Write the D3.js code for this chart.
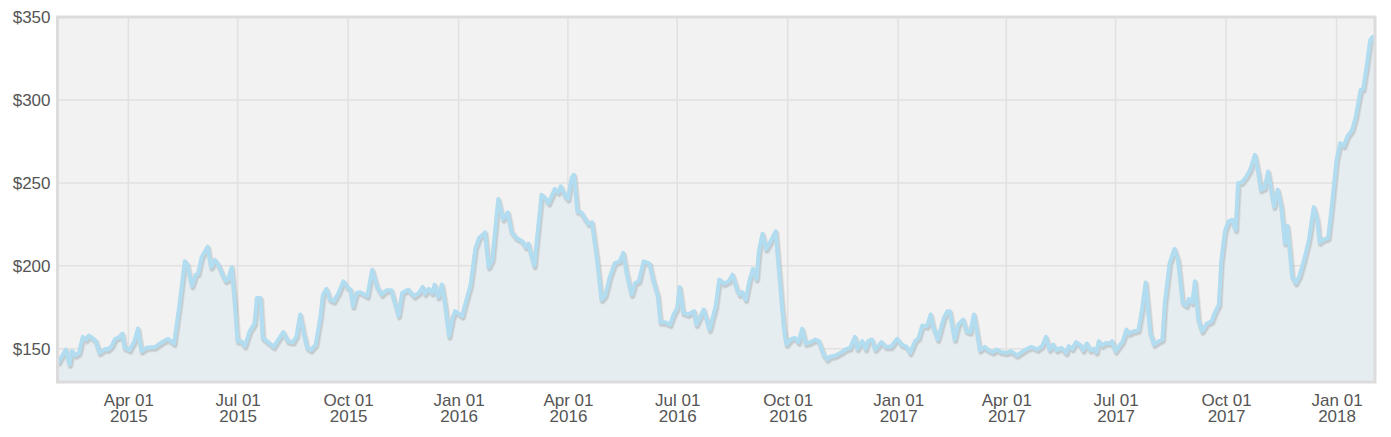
<!DOCTYPE html>
<html>
<head>
<meta charset="utf-8">
<script src="https://cdn.jsdelivr.net/npm/d3@7"></script>
<style>
  html, body { margin: 0; padding: 0; background: #ffffff; }
  svg { display: block; }
</style>
</head>
<body>
<svg id="chart" width="1391" height="437"></svg>
<script>
// ---- Data ----
const startDate = "2015-02-01";
const dayOffsets = [
  0,7,10,12,15,18,21,24,26,29,32,35,40,42,45,48,51,54,56,60,64,67,70,74,78,81,87,92,97,101,
  106,108,112,115,117,120,125,128,131,134,137,140,142,145,147,150,153,156,160,164,166,169,171,176,180,183,
  188,192,196,199,202,205,208,211,215,219,221,224,227,230,234,238,242,244,246,249,252,258,262,266,270,274,278,
  284,287,292,297,301,304,306,309,312,314,317,320,323,326,329,331,337,339,344,348,351,356,359,362,367,
  371,375,378,382,387,390,392,397,403,406,409,414,417,419,423,425,428,430,433,436,439,442,445,449,453,456,
  460,464,468,471,474,478,481,484,488,493,496,500,502,506,510,513,516,518,521,525,530,532,538,543,548,551,
  555,559,562,566,568,570,573,576,579,582,584,587,590,593,598,602,605,607,611,614,617,620,623,627,631,634,
  638,641,643,648,652,656,660,664,666,670,673,675,678,681,686,690,694,699,703,707,710,714,717,720,724,727,
  729,733,738,741,743,747,750,754,757,760,763,766,768,772,775,779,782,786,790,794,799,802,806,811,816,820,
  823,826,829,832,836,840,842,845,848,852,854,857,860,863,865,867,870,873,876,878,881,884,887,890,892,896,
  900,903,906,910,913,917,920,922,926,930,933,937,940,942,945,947,950,953,957,961,963,967,969,972,975,978,
  981,983,986,990,993,997,1000,1002,1005,1008,1011,1013,1016,1019,1022,1024,1026,1028,1031,1034,1038,1042,
  1046,1049,1051,1054,1058,1061,1065,1068,1071,1074,1078,1081,1085,1087,1090,1093,1095,1097
];
const prices = [
  141,149.6,140.6,148.6,146,147.6,157.2,155.6,158,156.6,154.6,147.6,150,149.6,151.6,156,156.8,159.2,150.6,149.2,154.6,162.2,148.6,150.6,151,151,154,156,153.2,173.6,
  202.8,201,188,194.6,195.2,205.2,211.6,199.2,203.6,200.6,195.6,191,191.6,199.2,183.6,154.6,154.6,151.6,160.6,165.2,180.6,180.6,156.6,153.6,151.2,154.6,
  160,154.6,154,157.6,170.7,159.6,150.6,149.2,152.6,169.7,182.7,186.1,179.7,178.7,183.7,190.7,186.7,185.7,175.7,183.7,184.1,181.7,197.7,187.7,182.7,185.3,185.3,
  170,183.7,185.7,181.7,183.7,187.3,183.3,186.1,183.7,188.7,181.3,188.7,175.7,157.6,168.7,172.7,169.7,175.7,188.7,210.8,216.8,220.2,199.3,203.7,240.3,
  228.2,232.2,220.8,216.8,214.8,211.4,213.4,200.1,242.9,240.9,237.8,246.3,244.3,247.9,241.9,240.3,252.9,254.9,232.8,232.2,228.8,225.4,226.2,205.8,179.7,182.1,
  193.7,201.7,202.7,207.8,195.7,182.7,189.7,190.7,202.7,201.3,191.7,181.7,166,166,164.6,170.7,174.7,187.3,171.7,170.7,172.7,164.6,173.7,161.6,175.7,191.7,
  189.3,190.7,194.7,185.7,182.7,184.1,179.7,190.7,198.1,192.1,208.8,219.4,210.1,213.8,220.8,186.7,161.6,152.6,156,156.6,154,162.2,153.2,154,155.6,154.6,
  146.6,143.6,145.2,146,147.6,149.6,150.6,157.2,150,154.6,150,154.6,155.6,149.6,154,151.2,151.2,156,152.6,151.2,147.6,154.6,156.6,164,163.6,170.7,
  163.6,155.6,168.7,172.7,172.7,155.6,164.6,167.6,160.6,160,170.7,158.6,149.2,151.2,149.2,148,149.6,148,147.6,148.6,146,147.6,149.6,151.2,149.6,152,
  157.2,149.6,152.6,149.2,150.6,147.6,151.6,150,154,152,149.2,153.2,149.2,150,148,154.6,152,153.6,153.2,154.6,148.6,151.6,154.6,161.6,159.2,160.6,
  161.2,173.7,190,159.6,152.6,154.6,155.6,177.7,201.7,210.2,203.8,177.7,176.1,180.1,177.7,190.7,167.6,160.6,165.2,166.6,170.7,176.7,202.7,220.8,226.8,227.8,
  221.8,249.9,250.3,253.9,257.9,266.9,255.9,245.9,246.9,256.9,243.9,235.8,245.9,235.8,213.8,224.2,209.8,193.7,189.7,193.7,203.8,215.8,
  235.4,227.8,214.2,215.8,216.8,235.8,263.9,274,272.3,278,282,290,306,306.4,320,336.1,338,335
];
const yTicks = [150, 200, 250, 300, 350];
const yDomain = [130, 350];
const xDomainDates = ["2015-02-01", "2018-02-02"];
const xTickDates = ["2015-04-01","2015-07-01","2015-10-01","2016-01-01","2016-04-01","2016-07-01",
                    "2016-10-01","2017-01-01","2017-04-01","2017-07-01","2017-10-01","2018-01-01"];

// ---- Build ----
const parse = d3.utcParse("%Y-%m-%d");
const start = parse(startDate);
const data = dayOffsets.map((o, i) => ({ date: d3.utcDay.offset(start, o), value: prices[i] }));

const L = 57.5, R = 1375, T = 17, B = 382;
const svg = d3.select("#chart");

const x = d3.scaleUtc().domain(xDomainDates.map(parse)).range([L, R]);
const y = d3.scaleLinear().domain(yDomain).range([B, T]);

// plot background
svg.append("rect").attr("x", L).attr("y", T).attr("width", R - L).attr("height", B - T)
  .attr("fill", "#f2f2f2");

// grid
const grid = svg.append("g");
grid.selectAll("line.h").data(yTicks).join("line")
  .attr("x1", L).attr("x2", R).attr("y1", d => y(d)).attr("y2", d => y(d))
  .attr("stroke", "#e1e1e1").attr("stroke-width", 1.5);
grid.selectAll("line.v").data(xTickDates.map(parse)).join("line")
  .attr("x1", d => x(d)).attr("x2", d => x(d)).attr("y1", T).attr("y2", B)
  .attr("stroke", "#e1e1e1").attr("stroke-width", 1.5);

// clip
svg.append("clipPath").attr("id", "clip").append("rect")
  .attr("x", L).attr("y", T).attr("width", R - L).attr("height", B - T);

const plot = svg.append("g").attr("clip-path", "url(#clip)");

const area = d3.area().x(d => x(d.date)).y0(B).y1(d => y(d.value));
const line = d3.line().x(d => x(d.date)).y(d => y(d.value));

plot.append("path").datum(data).attr("d", area)
  .attr("fill", "#e5edf1");

// shadow
plot.append("path").datum(data).attr("d", line)
  .attr("fill", "none").attr("stroke", "#000").attr("stroke-opacity", 0.07)
  .attr("stroke-width", 6).attr("stroke-linejoin", "round")
  .attr("transform", "translate(1,2)");
plot.append("path").datum(data).attr("d", line)
  .attr("fill", "none").attr("stroke", "#000").attr("stroke-opacity", 0.08)
  .attr("stroke-width", 4).attr("stroke-linejoin", "round")
  .attr("transform", "translate(1,2)");

plot.append("path").datum(data).attr("d", line)
  .attr("fill", "none").attr("stroke", "#b2ddf0")
  .attr("stroke-width", 4).attr("stroke-linejoin", "round").attr("stroke-linecap", "round");

// frame
svg.append("rect").attr("x", L).attr("y", T).attr("width", R - L).attr("height", B - T)
  .attr("fill", "none").attr("stroke", "#dcdcdc").attr("stroke-width", 3);

// y axis labels
const yAxis = d3.axisLeft(y).tickValues(yTicks).tickSize(0).tickPadding(6)
  .tickFormat(d => "$" + d);
const gy = svg.append("g").attr("transform", `translate(${L - 1},0)`).call(yAxis);
gy.select(".domain").remove();
gy.selectAll("text").attr("fill", "#555").style("font-family", "'Liberation Sans', Arial, sans-serif")
  .style("font-size", "17px");

// x axis labels (two lines)
const xAxis = d3.axisBottom(x).tickValues(xTickDates.map(parse)).tickSize(0).tickFormat("");
const gx = svg.append("g").attr("transform", `translate(0,${B})`).call(xAxis);
gx.select(".domain").remove();
const fmtMD = d3.utcFormat("%b %d"), fmtY = d3.utcFormat("%Y");
gx.selectAll(".tick").each(function(d) {
  const t = d3.select(this).append("text")
    .attr("fill", "#555").attr("text-anchor", "middle")
    .style("font-family", "'Liberation Sans', Arial, sans-serif").style("font-size", "17px");
  t.append("tspan").attr("x", 0).attr("y", 23.5).text(fmtMD(d));
  t.append("tspan").attr("x", 0).attr("y", 39.5).text(fmtY(d));
});
</script>
</body>
</html>
